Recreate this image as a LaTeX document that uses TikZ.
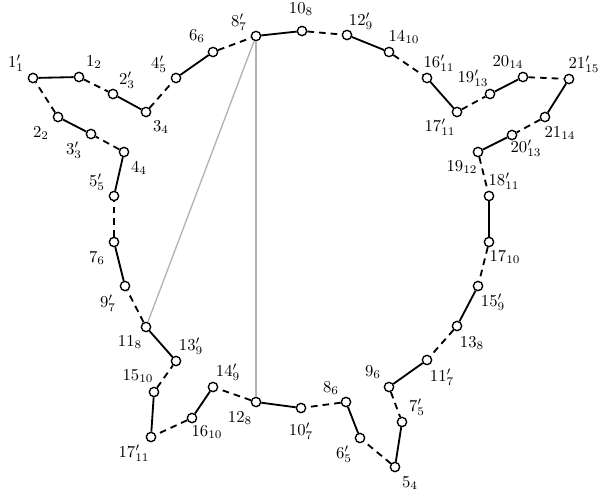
\documentclass[tikz,border=0pt]{standalone}
\begin{document}
\begin{tikzpicture}[x=0.6pt,y=-0.6pt,
  v/.style={circle,draw,line width=0.8pt,fill=white,inner sep=0pt,minimum size=5.6pt},
  sol/.style={line width=1.1pt},
  dsh/.style={line width=1.1pt,dash pattern=on 4pt off 3pt},
  lab/.style={inner sep=0pt},
  gr/.style={black!30,line width=0.8pt}]
\useasboundingbox (0,0) rectangle (603,496);
\foreach \i/\x/\y/\t/\lx/\ly in {
 1/33/78/{1'_1}/16/63,
 2/79/77/{1_2}/94/62,
 3/113/94/{2'_3}/127/80,
 4/146/112/{3_4}/161/127,
 5/176/78/{4'_5}/159/64,
 6/213/52/{6_6}/197/36,
 7/256/36/{8'_7}/239/22,
 8/302/31/{10_8}/301/9,
 9/347/35/{12'_9}/361/21,
 10/389/52/{14_{10}}/404/37,
 11/427/78/{16'_{11}}/439/63,
 12/457/112/{17'_{11}}/440/127,
 13/490/94/{19'_{13}}/473/78,
 14/523/77/{20_{14}}/508/62,
 15/569/79/{21'_{15}}/584/64,
 16/545/117/{21_{14}}/560/133,
 17/512/135/{20'_{13}}/526/148,
 18/478/152/{19_{12}}/462/167,
 19/489/196/{18'_{11}}/504/181,
 20/489/242/{17_{10}}/505/257,
 21/478/286/{15'_9}/493/302,
 22/457/326/{13_8}/472/343,
 23/427/360/{11'_7}/442/377,
 24/389/387/{9_6}/373/372,
 25/402/422/{7'_5}/417/407,
 26/395/467/{5_4}/410/483,
 27/360/438/{6'_5}/344/454,
 28/346/402/{8_6}/331/388,
 29/301/408/{10'_7}/301/431,
 30/256/402/{12_8}/240/418,
 31/213/387/{14'_9}/228/372,
 32/192/418/{16_{10}}/207/432,
 33/151/437/{17'_{11}}/134/453,
 34/154/392/{15_{10}}/138/376,
 35/176/361/{13'_9}/191/346,
 36/146/327/{11_8}/130/342,
 37/125/286/{9'_7}/108/303,
 38/114/242/{7_6}/97/258,
 39/114/196/{5'_5}/97/182,
 40/124/152/{4_4}/139/168,
 41/91/134/{3'_3}/74/150,
 42/58/117/{2_2}/41/133}
{
  \node[v] (n\i) at (\x,\y) {};
  \node[lab] (l\i) at (\lx,\ly) {$\t$};
}
\draw[gr] (n7) -- (n36);
\draw[gr] (n7) -- (n30);
\foreach \a/\b in {1/2,3/4,5/6,7/8,9/10,11/12,13/14,15/16,17/18,19/20,21/22,23/24,25/26,27/28,29/30,31/32,33/34,35/36,37/38,39/40,41/42}
  \draw[sol] (n\a) -- (n\b);
\foreach \a/\b in {2/3,4/5,6/7,8/9,10/11,12/13,14/15,16/17,18/19,20/21,22/23,24/25,26/27,28/29,30/31,32/33,34/35,36/37,38/39,40/41,42/1}
  \draw[dsh] (n\a) -- (n\b);
\end{tikzpicture}
\end{document}
